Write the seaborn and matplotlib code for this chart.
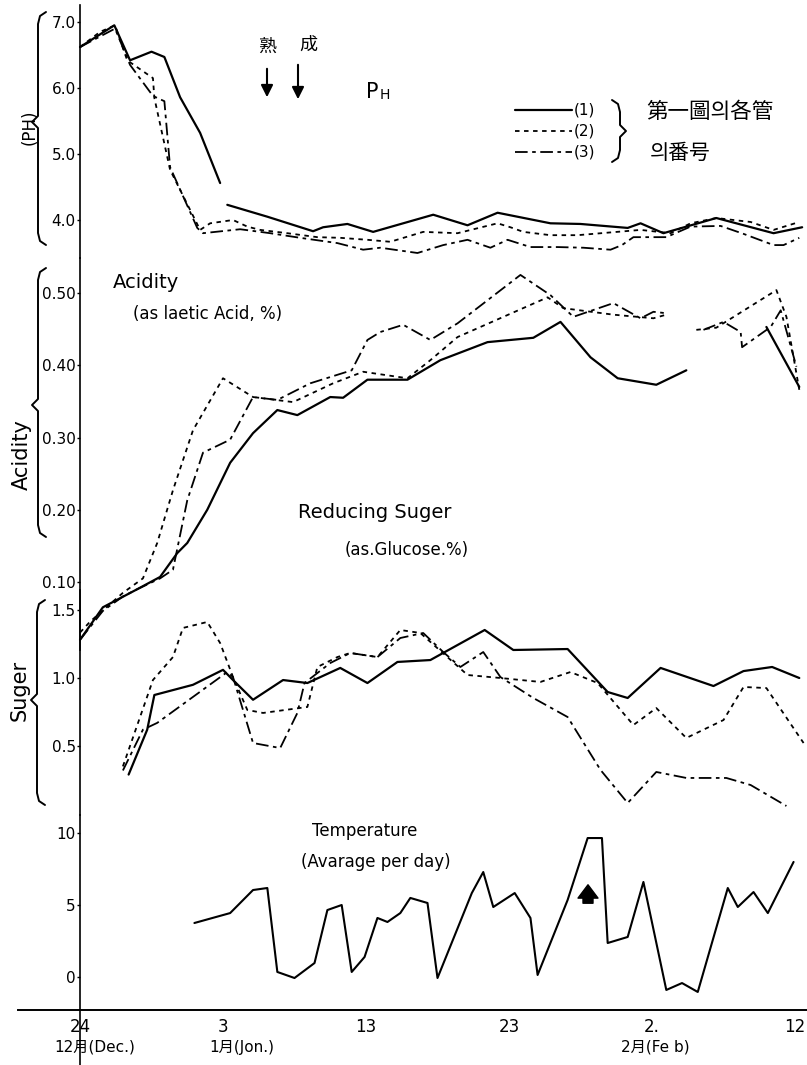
import numpy as np
import pandas as pd
import matplotlib
matplotlib.use("Agg")
import matplotlib.pyplot as plt
import seaborn as sns
from matplotlib.lines import Line2D

sns.set_theme(style="white")
plt.rcParams["font.family"] = ["DejaVu Sans", "Noto Sans CJK KR"]

nan = np.nan

# ---------------- data (days after Dec 24) ----------------
PH_DAYS_1 = [0, 2.4, 3.5, 5.0, 5.9, 7.0, 8.4, 9.8, 10.0, 10.3, 13.1, 16.3, 17.0, 18.7, 20.5, 24.7,
             27.1, 29.2, 32.9, 35.0, 38.3, 39.2, 40.8, 44.5, 48.5, 50.5]
PH_1 = [6.62, 6.95, 6.42, 6.55, 6.47, 5.86, 5.32, 4.56, nan, 4.23, 4.05, 3.83, 3.89, 3.94, 3.82, 4.08,
        3.92, 4.11, 3.95, 3.94, 3.88, 3.95, 3.80, 4.03, 3.80, 3.89]
PH_DAYS_2 = [0, 1.4, 2.45, 3.3, 5.1, 5.2, 6.3, 8.4, 9.1, 10.7, 11.7, 12.6, 14.5, 16.6, 18.2, 20.1,
             21.7, 24.0, 26.4, 29.2, 30.1, 31.0, 32.9, 34.8, 39.2, 41.3, 42.7, 44.5, 46.9, 48.5, 50.3]
PH_2 = [6.62, 6.85, 6.95, 6.42, 6.15, 5.85, 4.76, 3.85, 3.95, 4.00, 3.90, 3.85, 3.80, 3.74, 3.73, 3.70,
        3.67, 3.82, 3.80, 3.95, 3.89, 3.82, 3.77, 3.77, 3.85, 3.80, 3.95, 4.03, 3.97, 3.85, 3.97]
PH_DAYS_3 = [0, 2.45, 3.5, 5.1, 5.9, 6.3, 8.2, 8.6, 11.2, 13.3, 15.4, 18.0, 19.8, 21.0, 23.6, 25.4,
             27.1, 28.7, 29.9, 31.5, 33.4, 35.2, 37.1, 37.9, 38.7, 41.0, 42.7, 44.8, 46.4, 48.5, 49.2, 50.3]
PH_3 = [6.62, 6.90, 6.35, 5.88, 5.80, 4.80, 3.88, 3.80, 3.86, 3.80, 3.73, 3.65, 3.55, 3.58, 3.50, 3.62,
        3.70, 3.58, 3.70, 3.59, 3.59, 3.58, 3.55, 3.62, 3.74, 3.74, 3.90, 3.91, 3.79, 3.62, 3.62, 3.73]

AC_DAYS_1 = [0, 1.6, 4.0, 5.6, 6.8, 7.5, 8.9, 10.5, 12.1, 13.8, 15.2, 17.5, 18.4, 20.1, 22.9, 25.2,
             28.5, 31.7, 33.6, 35.7, 37.6, 40.3, 42.4, 45.0, 48.0, 50.3]
AC_1 = [0.02, 0.065, 0.09, 0.107, 0.140, 0.154, 0.200, 0.265, 0.306, 0.338, 0.331, 0.356, 0.355, 0.380,
        0.380, 0.407, 0.432, 0.438, 0.460, 0.411, 0.382, 0.373, 0.393, nan, 0.453, 0.370]
AC_DAYS_2 = [0, 0.7, 3.0, 4.4, 5.4, 6.5, 7.9, 10.0, 12.1, 14.9, 17.7, 19.8, 22.9, 24.5, 26.4, 32.7,
             33.8, 37.3, 40.1, 41.0, 42.0, 43.1, 44.5, 48.7, 49.4, 50.3]
AC_2 = [0.03, 0.045, 0.085, 0.105, 0.154, 0.227, 0.310, 0.382, 0.356, 0.349, 0.375, 0.391, 0.382, 0.407,
        0.439, 0.494, 0.479, 0.470, 0.465, 0.470, nan, 0.449, 0.452, 0.504, 0.467, 0.366]
AC_DAYS_3 = [0, 1.6, 3.0, 4.0, 5.6, 6.5, 7.5, 8.6, 10.5, 12.1, 13.8, 16.1, 19.0, 20.1, 21.0, 22.6,
             24.5, 26.4, 30.8, 32.9, 34.5, 37.3, 39.2, 40.1, 41.0, 42.0, 43.6, 45.0, 46.2, 46.3, 47.3,
             48.3, 49.0, 50.1]
AC_3 = [0.02, 0.06, 0.08, 0.09, 0.105, 0.117, 0.213, 0.279, 0.297, 0.356, 0.352, 0.375, 0.393, 0.435,
        0.446, 0.456, 0.435, 0.458, 0.525, 0.497, 0.467, 0.486, 0.465, 0.474, 0.472, nan, 0.449, 0.460,
        0.446, 0.425, 0.439, 0.453, 0.476, 0.398]

SG_DAYS_1 = [3.4, 4.7, 5.2, 7.9, 10.0, 10.7, 12.1, 14.2, 15.9, 18.2, 20.1, 22.2, 24.5, 28.3, 30.3,
             34.1, 36.9, 38.3, 40.6, 44.3, 46.4, 48.4, 50.3]
SG_1 = [0.29, 0.62, 0.875, 0.95, 1.06, 0.985, 0.84, 0.985, 0.963, 1.074, 0.963, 1.118, 1.132, 1.353,
        1.206, 1.213, 0.897, 0.853, 1.074, 0.941, 1.051, 1.081, 1.00]
SG_DAYS_2 = [3.0, 5.1, 6.5, 7.2, 8.9, 9.8, 10.7, 11.7, 12.8, 15.9, 16.6, 18.0, 18.9, 20.8, 22.4, 23.8,
             27.1, 29.4, 32.2, 34.3, 36.2, 38.7, 40.3, 42.4, 45.0, 46.4, 48.0, 50.6]
SG_2 = [0.35, 0.985, 1.154, 1.368, 1.412, 1.257, 1.007, 0.765, 0.743, 0.787, 1.081, 1.154, 1.184, 1.154,
        1.353, 1.331, 1.022, 1.0, 0.971, 1.044, 0.963, 0.654, 0.779, 0.559, 0.691, 0.934, 0.926, 0.522]
SG_DAYS_3 = [3.0, 4.4, 5.4, 10.3, 10.7, 12.1, 14.0, 15.2, 15.7, 17.5, 18.9, 20.8, 22.4, 24.0, 25.4,
             26.6, 28.2, 29.4, 31.7, 34.1, 36.4, 38.3, 40.3, 42.4, 45.2, 46.9, 49.4]
SG_3 = [0.32, 0.62, 0.67, 1.044, 1.007, 0.522, 0.485, 0.743, 0.963, 1.110, 1.184, 1.154, 1.294, 1.331,
        1.191, 1.081, 1.191, 1.007, 0.853, 0.713, 0.324, 0.081, 0.309, 0.265, 0.265, 0.213, 0.059]

TEMP_DAYS = [8.0, 10.5, 12.1, 13.1, 13.8, 15.0, 16.4, 17.3, 18.3, 19.0, 19.9, 20.8, 21.5, 22.4, 23.1,
             24.3, 25.0, 27.4, 28.2, 28.9, 30.4, 31.5, 32.0, 34.1, 35.5, 36.5, 36.9, 38.3, 39.4, 41.0,
             42.1, 43.2, 45.3, 46.0, 47.1, 48.1, 49.9]
TEMP = [3.75, 4.44, 6.04, 6.18, 0.35, -0.07, 0.97, 4.65, 5.0, 0.35, 1.39, 4.1, 3.82, 4.44, 5.49, 5.14,
        -0.07, 5.83, 7.29, 4.86, 5.83, 4.1, 0.14, 5.35, 9.65, 9.65, 2.36, 2.78, 6.6, -0.9, -0.42, -1.04,
        6.18, 4.86, 5.9, 4.44, 7.99]

SERIES = ["(1)", "(2)", "(3)"]
PH_TICKS = [4.0, 5.0, 6.0, 7.0]
PH_TICK_LABELS = ["4.0", "5.0", "6.0", "7.0"]
AC_TICKS = [0.1, 0.2, 0.3, 0.4, 0.5]
AC_TICK_LABELS = ["0.10", "0.20", "0.30", "0.40", "0.50"]
SG_TICKS = [0.5, 1.0, 1.5]
SG_TICK_LABELS = ["0.5", "1.0", "1.5"]
TEMP_TICKS = [0, 5, 10]
TEMP_TICK_LABELS = ["0", "5", "10"]
X_TICK_DAYS = [0, 10, 20, 30, 40, 50]
X_TICK_LABELS = ["24", "3", "13", "23", "2.", "12"]
MONTH_DAYS = [1.0, 11.3, 40.2]
MONTH_LABELS = ["12月(Dec.)", "1月(Jon.)", "2月(Fe b)"]

# ---------------- layout helpers ----------------
W, H = 807, 1065
fig = plt.figure(figsize=(W / 100, H / 100), dpi=100)
fig.patch.set_facecolor("white")

PX_PER_DAY = 14.3
X0 = 80
XLIM = (-X0 / PX_PER_DAY, (W - X0) / PX_PER_DAY)

STYLES = {
    "(1)": dict(linestyle="-", linewidth=1.6),
    "(2)": dict(linestyle=(0, (2.5, 2.5)), linewidth=1.3),
    "(3)": dict(linestyle=(0, (7, 2.5, 2, 2.5)), linewidth=1.3),
}


def panel(top, bot, ref_px, ref_val, ppu):
    ax = fig.add_axes([0, 1 - bot / H, 1, (bot - top) / H])
    ax.set_facecolor("none")
    ax.set_xlim(*XLIM)
    ax.set_ylim(ref_val - (bot - ref_px) / ppu, ref_val + (ref_px - top) / ppu)
    for s in ["top", "right", "bottom"]:
        ax.spines[s].set_visible(False)
    ax.spines["left"].set_position(("data", 0))
    ax.spines["left"].set_color("black")
    ax.spines["left"].set_linewidth(1.2)
    ax.xaxis.set_visible(False)
    ax.tick_params(axis="y", length=2, width=1, colors="black", labelsize=11, pad=1, left=True)
    ax.grid(False)
    return ax


def long_frame(pairs):
    rows = []
    for name, days, vals in pairs:
        seg = 0
        for d, v in zip(days, vals):
            if np.isnan(v):
                seg += 1
                continue
            rows.append((name, f"{name}-{seg}", d, v))
    return pd.DataFrame(rows, columns=["series", "seg", "day", "value"])


def draw_lines(ax, df):
    for name in df["series"].unique():
        sub = df[df["series"] == name]
        sns.lineplot(data=sub, x="day", y="value", units="seg", estimator=None, sort=False,
                     color="black", ax=ax, legend=False, **STYLES[name])
    ax.set_xlabel("")
    ax.set_ylabel("")
    ax.set_xlim(*XLIM)


def ftext(x, y, s, **kw):
    fig.text(x / W, 1 - y / H, s, color="black", **kw)


def brace(x, y0, y1, ym, d=1):
    # d=1 : nub points left ; d=-1 : nub points right
    pts = [(x + 8 * d, y0), (x + 2 * d, y0 + 4), (x, y0 + 12), (x, ym - 6), (x - 6 * d, ym),
           (x, ym + 6), (x, y1 - 12), (x + 2 * d, y1 - 4), (x + 8 * d, y1)]
    xs = [p[0] / W for p in pts]
    ys = [1 - p[1] / H for p in pts]
    fig.add_artist(Line2D(xs, ys, color="black", lw=1.4, transform=fig.transFigure))


def fline(x0, y0, x1, y1, **kw):
    fig.add_artist(Line2D([x0 / W, x1 / W], [1 - y0 / H, 1 - y1 / H], color="black",
                          transform=fig.transFigure, **kw))


# ---------------- panels ----------------
ax_ph = panel(5, 258, 220, 4.0, 66)
draw_lines(ax_ph, long_frame([("(1)", PH_DAYS_1, PH_1), ("(2)", PH_DAYS_2, PH_2), ("(3)", PH_DAYS_3, PH_3)]))
ax_ph.set_yticks(PH_TICKS, PH_TICK_LABELS)

ax_ac = panel(258, 650, 582, 0.10, 722.5)
draw_lines(ax_ac, long_frame([("(1)", AC_DAYS_1, AC_1), ("(2)", AC_DAYS_2, AC_2), ("(3)", AC_DAYS_3, AC_3)]))
ax_ac.set_yticks(AC_TICKS, AC_TICK_LABELS)

ax_sg = panel(590, 815, 678, 1.0, 136)
draw_lines(ax_sg, long_frame([("(1)", SG_DAYS_1, SG_1), ("(2)", SG_DAYS_2, SG_2), ("(3)", SG_DAYS_3, SG_3)]))
ax_sg.set_yticks(SG_TICKS, SG_TICK_LABELS)

ax_t = panel(815, 1010, 977, 0.0, 14.4)
sns.lineplot(x=TEMP_DAYS, y=TEMP, sort=False, estimator=None, color="black", lw=1.5, ax=ax_t)
ax_t.set_xlim(*XLIM)
ax_t.set_yticks(TEMP_TICKS, TEMP_TICK_LABELS)
ax_t.xaxis.set_visible(True)
ax_t.spines["bottom"].set_visible(True)
ax_t.spines["bottom"].set_color("black")
ax_t.spines["bottom"].set_linewidth(1.4)
ax_t.spines["bottom"].set_bounds((18 - X0) / PX_PER_DAY, XLIM[1])
ax_t.set_xticks(X_TICK_DAYS, X_TICK_LABELS)
ax_t.tick_params(axis="x", length=0, labelsize=12, colors="black", pad=6)
for d, lab in zip(MONTH_DAYS, MONTH_LABELS):
    ax_t.text(d, -0.19, lab, transform=ax_t.get_xaxis_transform(), ha="center", va="center",
              fontsize=11, color="black")

# left axis continues below the x-axis
fline(80, 1010, 80, 1065, lw=1.2)

# ---------------- annotations ----------------
ftext(30, 127, "(PH)", rotation=90, ha="center", va="center", fontsize=12)
ftext(22, 455, "Acidity", rotation=90, ha="center", va="center", fontsize=15)
ftext(20, 690, "Suger", rotation=90, ha="center", va="center", fontsize=15)
brace(38, 12, 245, 122)
brace(38, 268, 537, 405)
brace(37, 600, 805, 700)

ftext(366, 92, "P", ha="left", va="center", fontsize=15)
ftext(380, 95, "H", ha="left", va="center", fontsize=10)
ftext(267, 47, "熟", ha="center", va="center", fontsize=13)
ftext(308, 45, "成", ha="center", va="center", fontsize=13)
for xa, ya0, ya1 in [(267, 66, 100), (298, 62, 102)]:
    fig.add_artist(matplotlib.patches.FancyArrowPatch(
        (xa / W, 1 - ya0 / H), (xa / W, 1 - ya1 / H), transform=fig.transFigure,
        arrowstyle="-|>", mutation_scale=18, color="black", lw=1.5))

# legend
for i, name in enumerate(SERIES):
    y = 110 + 21 * i
    fig.add_artist(Line2D([515 / W, 572 / W], [1 - y / H, 1 - y / H], color="black",
                          transform=fig.transFigure, **STYLES[name]))
    ftext(574, y, name, ha="left", va="center", fontsize=11)
brace(620, 100, 162, 131, d=-1)
ftext(646, 112, "第一圖의各管", ha="left", va="center", fontsize=15.5)
ftext(650, 153, "의番号", ha="left", va="center", fontsize=15)

ftext(113, 282, "Acidity", ha="left", va="center", fontsize=14)
ftext(133, 314, "(as laetic Acid, %)", ha="left", va="center", fontsize=12)
ftext(298, 513, "Reducing Suger", ha="left", va="center", fontsize=14)
ftext(345, 550, "(as.Glucose.%)", ha="left", va="center", fontsize=12)
ftext(312, 831, "Temperature", ha="left", va="center", fontsize=12)
ftext(301, 862, "(Avarage per day)", ha="left", va="center", fontsize=12)

fig.add_artist(matplotlib.patches.FancyArrowPatch(
    (588 / W, 1 - 906 / H), (588 / W, 1 - 882 / H), transform=fig.transFigure,
    arrowstyle="simple,head_width=1.2,head_length=0.8,tail_width=0.6", mutation_scale=12,
    color="black"))

fig.savefig("out.png", dpi=100, facecolor="white")
